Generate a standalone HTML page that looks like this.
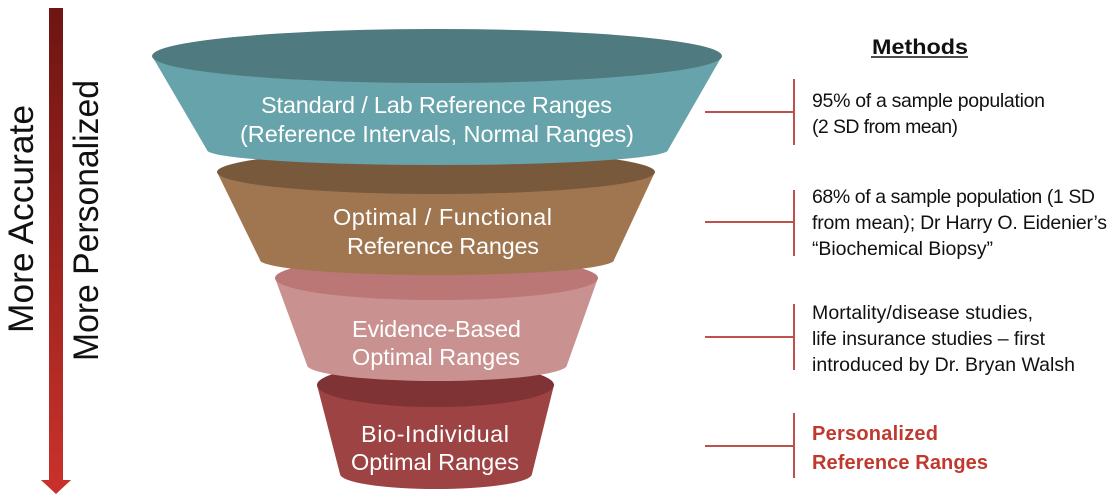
<!DOCTYPE html>
<html><head><meta charset="utf-8"><style>
html,body{margin:0;padding:0;background:#fff;}
svg{display:block;}
</style></head><body>
<svg width="1118" height="501" viewBox="0 0 1118 501" xmlns="http://www.w3.org/2000/svg">
<defs>
<linearGradient id="ag" x1="0" y1="0" x2="0" y2="1">
<stop offset="0" stop-color="#6e1512"/>
<stop offset="1" stop-color="#c8312b"/>
</linearGradient>
</defs>
<rect x="49" y="8" width="14" height="473" fill="url(#ag)"/>
<polygon points="41,480 71,480 56,494" fill="#c8312b"/>
<text x="0" y="0" transform="translate(33,333) rotate(-90)" font-family="Liberation Sans, sans-serif" font-size="35" fill="#111" textLength="228" lengthAdjust="spacingAndGlyphs">More Accurate</text>
<text x="0" y="0" transform="translate(98,361) rotate(-90)" font-family="Liberation Sans, sans-serif" font-size="35" fill="#111" textLength="281" lengthAdjust="spacingAndGlyphs">More Personalized</text>

<path d="M317,385 L340,474 A96,15 0 0 0 532,474 L554,385 Z" fill="#9e4343"/>
<ellipse cx="435.5" cy="385" rx="118.5" ry="22" fill="#7f3335"/>
<path d="M275,278 L307,365 A130,16 0 0 0 567,365 L598,278 Z" fill="#c99190"/>
<ellipse cx="436.5" cy="278" rx="161.5" ry="22" fill="#bb7676"/>
<path d="M217,172 L260,260 A177,15 0 0 0 614,260 L655,172 Z" fill="#a07650"/>
<ellipse cx="436" cy="172" rx="219" ry="22" fill="#78593c"/>
<path d="M152,56 L207,150 A230.5,15 0 0 0 668,150 L722,56 Z" fill="#67a3ab"/>
<ellipse cx="437" cy="56" rx="285" ry="27" fill="#4f7a80"/>

<g font-family="Liberation Sans, sans-serif" font-size="23.5" fill="#fff" lengthAdjust="spacingAndGlyphs">
<text x="261" y="113" textLength="351">Standard / Lab Reference Ranges</text>
<text x="240" y="142" textLength="394">(Reference Intervals, Normal Ranges)</text>
<text x="333" y="225" textLength="219">Optimal / Functional</text>
<text x="347" y="254" textLength="192">Reference Ranges</text>
<text x="352" y="337" textLength="169">Evidence-Based</text>
<text x="352" y="365" textLength="168">Optimal Ranges</text>
<text x="361" y="442" textLength="148">Bio-Individual</text>
<text x="351" y="470" textLength="168">Optimal Ranges</text>
</g>

<g stroke="#c0504d" stroke-width="2" fill="none">
<path d="M705,112 H794 M794,79 V145"/>
<path d="M705,222 H794 M794,190 V256"/>
<path d="M705,337 H794 M794,304 V370"/>
<path d="M705,446 H794 M794,413 V478"/>
</g>

<text x="872" y="54" font-family="Liberation Sans, sans-serif" font-size="21" font-weight="bold" fill="#111" textLength="96" lengthAdjust="spacingAndGlyphs">Methods</text>
<line x1="871" y1="57" x2="968" y2="57" stroke="#111" stroke-width="1.5"/>

<g font-family="Liberation Sans, sans-serif" font-size="19.5" fill="#111" lengthAdjust="spacingAndGlyphs">
<text x="812" y="107" textLength="233">95% of a sample population</text>
<text x="812" y="133" textLength="146">(2 SD from mean)</text>
<text x="812" y="203" textLength="283">68% of a sample population (1 SD</text>
<text x="812" y="229" textLength="295">from mean); Dr Harry O. Eidenier’s</text>
<text x="812" y="255" textLength="181">“Biochemical Biopsy”</text>
<text x="812" y="319" textLength="221">Mortality/disease studies,</text>
<text x="812" y="345" textLength="233">life insurance studies – first</text>
<text x="812" y="371" textLength="263">introduced by Dr. Bryan Walsh</text>
</g>
<g font-family="Liberation Sans, sans-serif" font-size="20" font-weight="bold" fill="#c0392f" lengthAdjust="spacingAndGlyphs">
<text x="812" y="440" textLength="126">Personalized</text>
<text x="812" y="469" textLength="176">Reference Ranges</text>
</g>
</svg>
</body></html>
